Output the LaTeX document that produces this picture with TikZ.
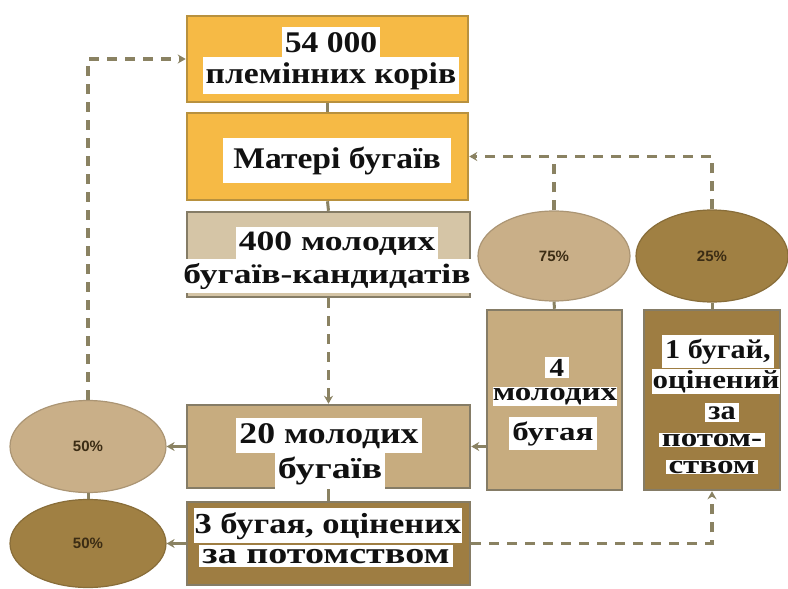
\documentclass[tikz,border=0pt]{standalone}
\usepackage{fontspec}
\setmainfont{Liberation Serif}
\newfontfamily\wf[FakeStretch=1.12]{Liberation Serif}
\newfontfamily\wfc[FakeStretch=1.19]{Liberation Serif}
\newfontfamily\wfb[FakeStretch=1.27]{Liberation Serif}
\newfontfamily\pf{Liberation Sans}
\usetikzlibrary{arrows.meta,shapes.geometric}
\definecolor{orng}{HTML}{F6BA45}
\definecolor{obord}{HTML}{B8913E}
\definecolor{tanl}{HTML}{D5C5A6}
\definecolor{tanm}{HTML}{C7AC7F}
\definecolor{brwn}{HTML}{9E7D42}
\definecolor{bord}{HTML}{857C66}
\definecolor{ell}{HTML}{C9AF88}
\definecolor{elld}{HTML}{A08043}
\definecolor{lnc}{HTML}{8A8262}
\definecolor{txt}{HTML}{111111}
\definecolor{ptxt}{HTML}{3B2C14}
\begin{document}
\begin{tikzpicture}[x=1pt,y=-1pt,
  box/.style={draw=bord,line width=2.5pt,inner sep=0pt},
  hl/.style={fill=white,inner xsep=3pt,inner ysep=3pt,text=txt,anchor=base,
    font=\wf\bfseries\fontsize{#1}{#1}\selectfont},
  hl/.default=30,
  oval/.style={ellipse,draw=#1!85!black,line width=1.2pt,fill=#1,inner sep=0pt,
    font=\pf\bfseries\fontsize{15}{15}\selectfont,text=ptxt},
  conn/.style={draw=lnc,line width=3pt},
  dsh/.style={conn,line width=3.5pt,dash pattern=on 10pt off 8pt},
  tip/.tip={Stealth[length=8pt,width=9pt]}
]
\useasboundingbox (0,0) rectangle (788,589);
% boxes
\node[box,fill=orng,draw=obord,minimum width=281pt,minimum height=86pt] (b1) at (327.5,59) {};
\node[box,fill=orng,draw=obord,minimum width=281pt,minimum height=87pt] (b2) at (327.5,156.5) {};
\node[box,fill=tanl,minimum width=283pt,minimum height=85pt] (b3) at (328.5,254.5) {};
\node[box,fill=tanm,minimum width=283pt,minimum height=83pt] (b20) at (328.5,446.5) {};
\node[box,fill=brwn,minimum width=283pt,minimum height=83pt] (b3b) at (328.5,543.5) {};
\node[box,fill=tanm,minimum width=135pt,minimum height=180pt] (b4) at (554.5,400) {};
\node[box,fill=brwn,minimum width=136pt,minimum height=180pt] (b1b) at (712,400) {};
% ellipses
\node[oval=ell,minimum width=152pt,minimum height=90pt] (e75) at (554,256) {75\%};
\node[oval=elld,minimum width=152pt,minimum height=92pt] (e25) at (712,256) {25\%};
\node[oval=ell,minimum width=156pt,minimum height=92pt] (e50a) at (88,446.5) {50\%};
\node[oval=elld,minimum width=156pt,minimum height=88pt] (e50b) at (88,543.5) {50\%};
% texts
\node[hl,inner ysep=5pt] (t1a) at (331,52) {54 000};
\node[hl,inner ysep=5pt] (t1b) at (331,83) {племінних корів};
\node[hl,inner xsep=10pt,inner ysep=9pt] (t2) at (337,168) {Матері бугаїв};
\node[hl=28,inner ysep=4pt] (t3a) at (337,250) {\wfb 400 молодих};
\node[hl=28,inner ysep=4pt] (t3b) at (327,283) {\wfb бугаїв-кандидатів};
\node[hl,inner ysep=5pt] (t20a) at (329,443) {\wfc 20 молодих};
\node[hl,inner ysep=5pt] (t20b) at (330,478) {\wfb бугаїв};
\node[hl=29,inner ysep=4pt,inner xsep=1pt] (t3ba) at (328,533) {\wfc 3 бугая, оцінених};
\node[hl,inner ysep=4pt] (t3bb) at (326,563) {\wfb за потомством};
\node[hl=26,inner ysep=2pt,inner xsep=5pt] (t4a) at (557,376) {4};
\node[hl=26,inner ysep=1pt,inner xsep=0pt] (t4b) at (555,400) {\wfb молодих};
\node[hl=26,inner ysep=4pt] (t4c) at (553,440) {\wfb бугая};
\node[hl=27,inner ysep=4pt] (t5a) at (718,358) {1 бугай,};
\node[hl=26,inner ysep=1pt,inner xsep=1pt] (t5b) at (716,388) {\wfc оцінений};
\node[hl=27,inner ysep=3pt] (t5c) at (722,419) {за};
\node[hl=26,inner ysep=1pt] (t5d) at (712,446) {\wfb потом-};
\node[hl=26,inner ysep=1pt] (t5e) at (712,473) {\wfb ством};
% connectors
\draw[conn] (b1.south) -- (b2.north);
\draw[conn] (b2.south) -- (b3.north);
\draw[dsh,-tip] (b3.south) -- (b20.north);
\draw[conn] (b20.south) -- (b3b.north);
\draw[conn,-tip] (b20.west) -- (e50a.east);
\draw[conn,-tip] (b3b.west) -- (e50b.east);
\draw[conn] (e50a.south) -- (e50b.north);
\draw[dsh,-tip] (e50a.north) |- (b1.west);
\draw[conn,-tip] (b4.west |- b20.east) -- (b20.east);
\draw[conn] (e75.south) -- (b4.north);
\draw[conn] (e25.south) -- (b1b.north);
\draw[dsh,-tip] (e25.north) |- (b2.east);
\draw[dsh] (e75.north) -- (e75.north |- b2.east);
\draw[dsh,-tip] (b3b.east) -| (b1b.south);
\end{tikzpicture}
\end{document}
